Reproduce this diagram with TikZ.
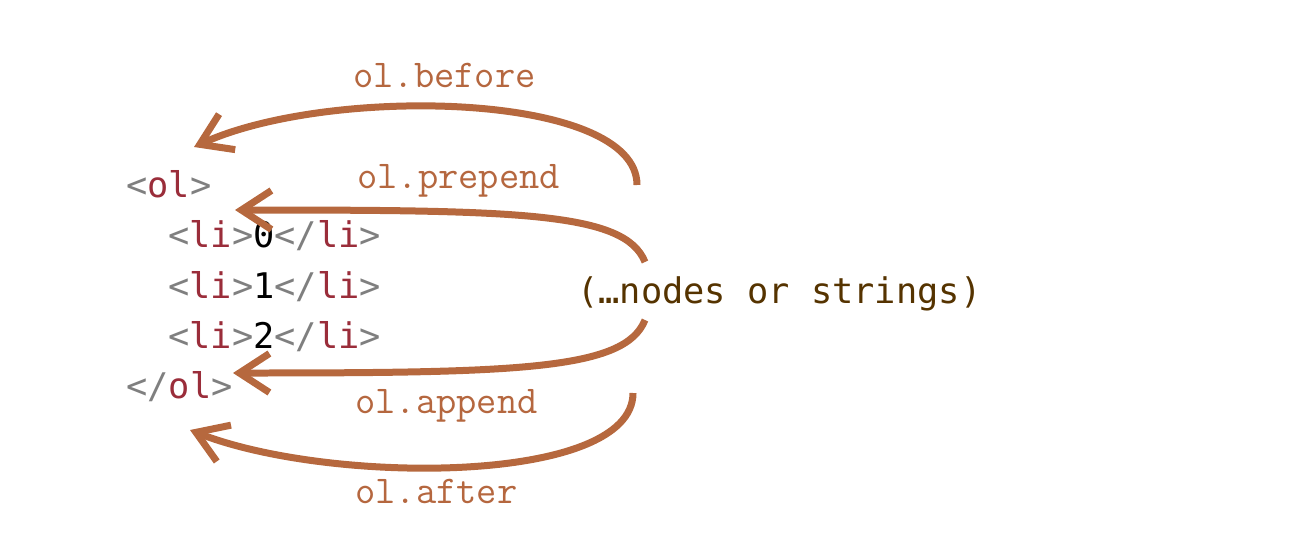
\documentclass[tikz,border=0pt]{standalone}
\usepackage{fontspec}
\usepackage{xcolor}
\usetikzlibrary{arrows.meta}
\setmonofont{DejaVu Sans Mono}
\newfontfamily\methodfont{Latin Modern Mono}
\definecolor{arrowbrown}{HTML}{B6683E}
\definecolor{methodbrown}{HTML}{B5673F}
\definecolor{taggray}{HTML}{7F7F7F}
\definecolor{tagred}{HTML}{9A2D3A}
\definecolor{notebrown}{HTML}{553300}
\newcommand{\otag}[1]{\textcolor{taggray}{<}\textcolor{tagred}{#1}\textcolor{taggray}{>}}
\newcommand{\ctag}[1]{\textcolor{taggray}{</}\textcolor{tagred}{#1}\textcolor{taggray}{>}}

\tikzset{
	code/.style={anchor=base west,inner sep=0pt,font=\ttfamily\fontsize{20.1}{22}\selectfont},
	method/.style={anchor=base west,inner sep=0pt,text=methodbrown,font=\methodfont\fontsize{22.4}{24}\selectfont},
	insert/.style={draw=arrowbrown,line width=0.14cm,-{Straight Barb[length=0.6cm,width=0.78cm]}},
}

\begin{document}
\begin{tikzpicture}[x=0.02cm,y=-0.02cm]
	\useasboundingbox (0,0) rectangle (1308,552);
	% the list
	\node[code] (ol) at (126,197) {\otag{ol}};
	\node[code] (li0) at (168,247) {\otag{li}0\ctag{li}};
	\node[code] (li1) at (168,298) {\otag{li}1\ctag{li}};
	\node[code] (li2) at (168,348) {\otag{li}2\ctag{li}};
	\node[code] (endol) at (126,398) {\ctag{ol}};
	\node[code,text=notebrown] (items) at (577,303) {(…nodes or strings)};
	% method names
	\node[method] (before) at (353,87) {ol.before};
	\node[method] (prepend) at (357,188) {ol.prepend};
	\node[method] (append) at (355,413) {ol.append};
	\node[method] (after) at (355,503) {ol.after};
	% ends of the arrows
	\coordinate (src before) at (637,185);
	\coordinate (src prepend) at (645,262);
	\coordinate (src append) at (645,320);
	\coordinate (src after) at (633,393);
	\coordinate (dst before) at (194,147);
	\coordinate (dst prepend) at (235,210);
	\coordinate (dst append) at (233,373);
	\coordinate (dst after) at (190,430);
	\draw[insert] (src before) .. controls (637,92) and (330,85) .. (dst before);
	\draw[insert] (src prepend) .. controls (625,212) and (520,210) .. (dst prepend);
	\draw[insert] (src append) .. controls (625,370) and (520,373) .. (dst append);
	\draw[insert] (src after) .. controls (633,485) and (330,485) .. (dst after);
\end{tikzpicture}
\end{document}
